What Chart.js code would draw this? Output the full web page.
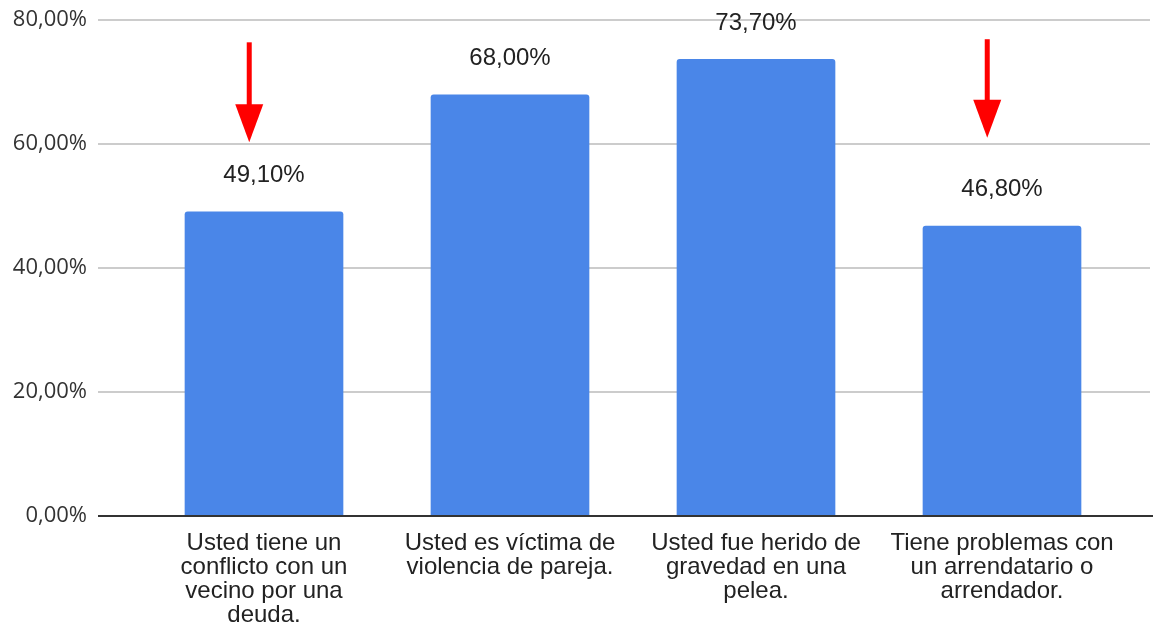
<!DOCTYPE html>
<html>
<head>
<meta charset="utf-8">
<script src="https://cdn.jsdelivr.net/npm/chart.js@4"></script>
<style>
  html, body { margin: 0; padding: 0; background: #ffffff; }
  #wrap { width: 1153px; height: 624px; }
</style>
</head>
<body>
<div id="wrap"><canvas id="c" width="1153" height="624"></canvas></div>
<script>
// ---- data ----
const categories = [
  "Usted tiene un conflicto con un vecino por una deuda.",
  "Usted es víctima de violencia de pareja.",
  "Usted fue herido de gravedad en una pelea.",
  "Tiene problemas con un arrendatario o arrendador."
];
const categoryLines = [
  ["Usted tiene un", "conflicto con un", "vecino por una", "deuda."],
  ["Usted es víctima de", "violencia de pareja."],
  ["Usted fue herido de", "gravedad en una", "pelea."],
  ["Tiene problemas con", "un arrendatario o", "arrendador."]
];
const values = [49.1, 68.0, 73.7, 46.8];
const yTickValues = [0, 20, 40, 60, 80];
const yMin = 0;
const yMax = 80;
const yStep = 20;
// annotation arrows: category index, shift (in categories), start value, tip value
const arrowIndex = [0, 3];
const arrowShift = [-0.06, -0.06];
const arrowFrom = [76.4, 76.9];
const arrowTo = [60.3, 61.0];

function fmtPct(v) {
  return v.toFixed(2).replace('.', ',') + '%';
}

const gridPlugin = {
  id: 'extGrid',
  beforeDatasetsDraw(chart) {
    const { ctx, chartArea, scales } = chart;
    const y = scales.y;
    ctx.save();
    ctx.strokeStyle = '#cccccc';
    ctx.lineWidth = 2;
    y.ticks.forEach(t => {
      if (t.value === yMin) return;
      const py = Math.round(y.getPixelForValue(t.value));
      ctx.beginPath();
      ctx.moveTo(chartArea.left - 43, py);
      ctx.lineTo(chartArea.right + 25, py);
      ctx.stroke();
    });
    ctx.restore();
  },
  afterDatasetsDraw(chart) {
    const { ctx, chartArea, scales } = chart;
    const y = scales.y, x = scales.x;
    ctx.save();
    // baseline
    const p0 = Math.round(y.getPixelForValue(yMin));
    ctx.strokeStyle = '#333333';
    ctx.lineWidth = 2;
    ctx.beginPath();
    ctx.moveTo(chartArea.left - 43, p0);
    ctx.lineTo(chartArea.right + 28, p0);
    ctx.stroke();
    // data labels
    const meta = chart.getDatasetMeta(0);
    ctx.fillStyle = '#222222';
    ctx.font = '24px "Liberation Sans", Arial, sans-serif';
    ctx.textAlign = 'center';
    ctx.textBaseline = 'middle';
    meta.data.forEach((bar, i) => {
      ctx.fillText(fmtPct(values[i]), bar.x, bar.y - 36);
    });
    // arrows
    ctx.fillStyle = '#ff0000';
    ctx.strokeStyle = '#ff0000';
    arrowIndex.forEach((idx, k) => {
      const ax = x.getPixelForValue(idx + arrowShift[k]);
      const yTop = y.getPixelForValue(arrowFrom[k]);
      const yTip = y.getPixelForValue(arrowTo[k]);
      const headH = 38, headW = 28;
      ctx.lineWidth = 5;
      ctx.beginPath();
      ctx.moveTo(ax, yTop);
      ctx.lineTo(ax, yTip - headH + 2);
      ctx.stroke();
      ctx.beginPath();
      ctx.moveTo(ax - headW / 2, yTip - headH);
      ctx.lineTo(ax + headW / 2, yTip - headH);
      ctx.lineTo(ax, yTip);
      ctx.closePath();
      ctx.fill();
    });
    ctx.restore();
  }
};

new Chart(document.getElementById('c'), {
  type: 'bar',
  data: {
    labels: categoryLines,
    datasets: [{
      data: values,
      backgroundColor: '#4a86e8',
      borderWidth: 0,
      borderRadius: { topLeft: 3, topRight: 3, bottomLeft: 0, bottomRight: 0 },
      borderSkipped: 'bottom',
      categoryPercentage: 1.0,
      barPercentage: 0.645
    }]
  },
  options: {
    responsive: false,
    animation: false,
    devicePixelRatio: 1,
    layout: { padding: { top: 20, right: 28, left: 0, bottom: 0 } },
    plugins: { legend: { display: false }, tooltip: { enabled: false } },
    scales: {
      x: {
        grid: { display: false, drawTicks: false },
        border: { display: false },
        ticks: {
          color: '#222222',
          padding: 15,
          maxRotation: 0,
          autoSkip: false,
          font: { family: '"Liberation Sans", Arial, sans-serif', size: 24, lineHeight: 1 }
        },
        afterFit(s) { s.height = 108; }
      },
      y: {
        min: yMin,
        max: yMax,
        grid: { display: false, drawTicks: false },
        border: { display: false },
        ticks: {
          stepSize: yStep,
          color: '#333333',
          padding: 54,
          font: { family: '"Open Sans", sans-serif', size: 22 },
          callback: (v) => fmtPct(v)
        },
        afterBuildTicks(s) { s.ticks = yTickValues.map(v => ({ value: v })); },
        afterFit(s) { s.width = 141; s.paddingTop = 0; s.paddingBottom = 0; }
      }
    }
  },
  plugins: [gridPlugin]
});
</script>
</body>
</html>
